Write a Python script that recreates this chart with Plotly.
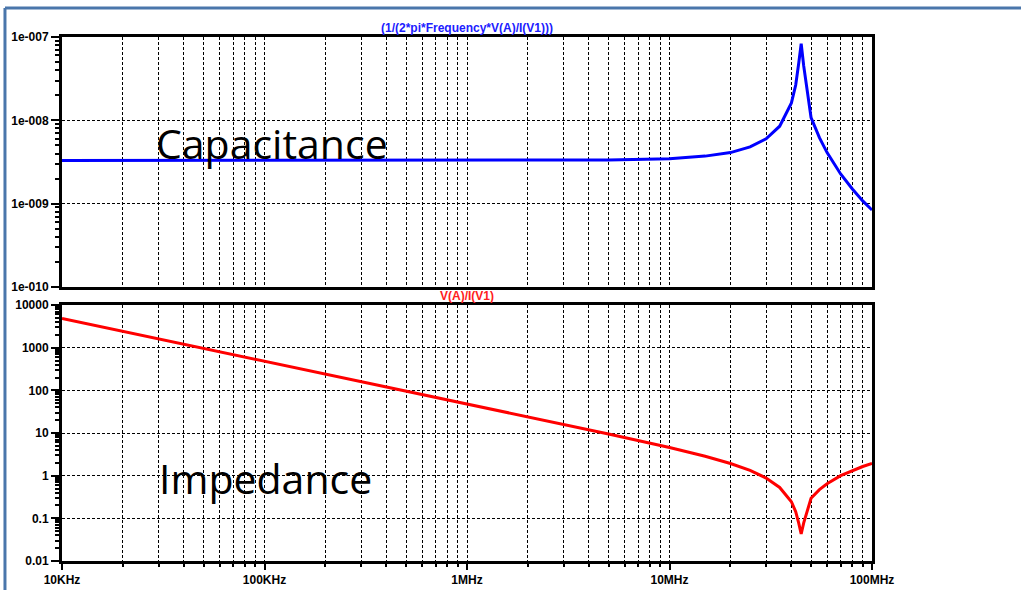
import plotly.graph_objects as go

# ---- data ----
freq_hz = [1e4, 2e4, 5e4, 1e5, 2e5, 5e5, 1e6, 2e6, 5e6, 1e7, 1.5e7, 2e7, 2.5e7, 3e7,
           3.5e7, 4e7, 4.2e7, 4.35e7, 4.47e7, 4.6e7, 4.8e7, 5e7, 5.5e7, 6e7, 7e7,
           8e7, 9e7, 1e8]
capacitance_f = [3.3e-9, 3.3e-9, 3.3e-9, 3.3e-9, 3.3e-9, 3.3e-9, 3.3e-9, 3.31e-9,
                 3.34e-9, 3.47e-9, 3.72e-9, 4.1e-9, 4.8e-9, 6.0e-9, 8.5e-9, 1.62e-8,
                 2.65e-8, 4.9e-8, 8.3e-8, 4.5e-8, 2.0e-8, 1.08e-8, 6.2e-9, 4.1e-9,
                 2.27e-9, 1.5e-9, 1.08e-9, 8.4e-10]
impedance_ohm = [4820, 2410, 965, 482, 241, 96.5, 48.2, 24.1, 9.52, 4.58, 2.85, 1.93,
                 1.33, 0.88, 0.53, 0.245, 0.143, 0.076, 0.043, 0.078, 0.165, 0.295,
                 0.47, 0.645, 1.0, 1.33, 1.64, 1.93]

x_tick_vals = [1e4, 1e5, 1e6, 1e7, 1e8]
x_tick_text = ["10KHz", "100KHz", "1MHz", "10MHz", "100MHz"]
cap_tick_vals = [1e-10, 1e-9, 1e-8, 1e-7]
cap_tick_text = ["1e-010", "1e-009", "1e-008", "1e-007"]
imp_tick_vals = [0.01, 0.1, 1, 10, 100, 1000, 10000]
imp_tick_text = ["0.01", "0.1", "1", "10", "100", "1000", "10000"]

top_title = "(1/(2*pi*Frequency*V(A)/I(V1)))"
bottom_title = "V(A)/I(V1)"
top_label = "Capacitance"
bottom_label = "Impedance"

def minor_vals(lo, hi):
    out = []
    for e in range(lo, hi):
        for m in range(2, 10):
            out.append(m * 10.0 ** e)
    return out

x_minor = minor_vals(4, 8)
cap_minor = minor_vals(-10, -7)
imp_minor = minor_vals(-2, 4)

GRID = "3px,2px"
tickfont = dict(family="Liberation Sans, Arial", size=12, color="black", weight="bold")

fig = go.Figure()
fig.add_trace(go.Scatter(x=freq_hz, y=capacitance_f, mode="lines",
                         line=dict(color="#0000ff", width=3), xaxis="x", yaxis="y",
                         showlegend=False))
fig.add_trace(go.Scatter(x=freq_hz, y=impedance_ohm, mode="lines",
                         line=dict(color="#ff0000", width=3), xaxis="x2", yaxis="y2",
                         showlegend=False))

common_x = dict(type="log", range=[4, 8], showline=True, mirror=True, linecolor="black",
                linewidth=3, tickmode="array", tickvals=x_tick_vals, ticktext=x_tick_text,
                showgrid=True, gridcolor="black", gridwidth=1, griddash=GRID,
                zeroline=False, tickfont=tickfont, automargin=False)

fig.update_layout(
    width=1021, height=590,
    margin=dict(l=62, r=149, t=37, b=29),
    paper_bgcolor="white", plot_bgcolor="white",
    xaxis=dict(**common_x, anchor="y", domain=[0, 1], showticklabels=False, ticks="",
               minor=dict(tickmode="array", tickvals=x_minor, showgrid=True,
                          gridcolor="black", gridwidth=1, griddash=GRID, ticks="")),
    xaxis2=dict(**common_x, anchor="y2", domain=[0, 1], ticks="outside", ticklen=6,
                tickwidth=2, tickcolor="black",
                minor=dict(tickmode="array", tickvals=x_minor, showgrid=True,
                           gridcolor="black", gridwidth=1, griddash=GRID,
                           ticks="outside", ticklen=3, tickwidth=2, tickcolor="black")),
    yaxis=dict(type="log", range=[-10, -7], domain=[0.5229, 1.0], anchor="x",
               showline=True, mirror=True, linecolor="black", linewidth=3,
               tickmode="array", tickvals=cap_tick_vals, ticktext=cap_tick_text,
               ticks="outside", ticklen=8, tickwidth=2, tickcolor="black",
               showgrid=True, gridcolor="black", gridwidth=1, griddash=GRID,
               zeroline=False, tickfont=tickfont, automargin=False,
               minor=dict(tickmode="array", tickvals=cap_minor, showgrid=False,
                          ticks="outside", ticklen=4, tickwidth=2, tickcolor="black")),
    yaxis2=dict(type="log", range=[-2, 4], domain=[0, 0.4885], anchor="x2",
                showline=True, mirror=True, linecolor="black", linewidth=3,
                tickmode="array", tickvals=imp_tick_vals, ticktext=imp_tick_text,
                ticks="outside", ticklen=8, tickwidth=2, tickcolor="black",
                showgrid=True, gridcolor="black", gridwidth=1, griddash=GRID,
                zeroline=False, tickfont=tickfont, automargin=False,
                minor=dict(tickmode="array", tickvals=imp_minor, showgrid=False,
                           ticks="outside", ticklen=4, tickwidth=2, tickcolor="black")),
)

fig.add_annotation(text=top_title, xref="paper", yref="paper", x=0.5, y=1.0172,
                   xanchor="center", yanchor="middle", showarrow=False,
                   font=dict(family="Liberation Sans, Arial", size=12, color="#2020ff",
                             weight="bold"))
fig.add_annotation(text=bottom_title, xref="paper", yref="paper", x=0.5, y=0.5057,
                   xanchor="center", yanchor="middle", showarrow=False,
                   font=dict(family="Liberation Sans, Arial", size=12, color="#ff2020",
                             weight="bold"))
fig.add_annotation(text=top_label, xref="paper", yref="paper", x=0.1136, y=0.7977,
                   xanchor="left", yanchor="middle", showarrow=False,
                   font=dict(family="Open Sans", size=41, color="black"))
fig.add_annotation(text=bottom_label, xref="paper", yref="paper", x=0.1173, y=0.1584,
                   xanchor="left", yanchor="middle", showarrow=False,
                   font=dict(family="Open Sans", size=41, color="black"))

frame_color = "#4a76ab"
fig.add_shape(type="line", xref="paper", yref="paper", x0=-0.0704, x1=1.3,
              y0=1.0553, y1=1.0553, line=dict(color=frame_color, width=3))
fig.add_shape(type="line", xref="paper", yref="paper", x0=-0.0704, x1=-0.0704,
              y0=1.0553, y1=-0.2, line=dict(color=frame_color, width=3))

fig.write_html("out.html", config={"displayModeBar": False},
               post_script="document.body.style.margin='0';document.body.style.overflow='hidden';")
